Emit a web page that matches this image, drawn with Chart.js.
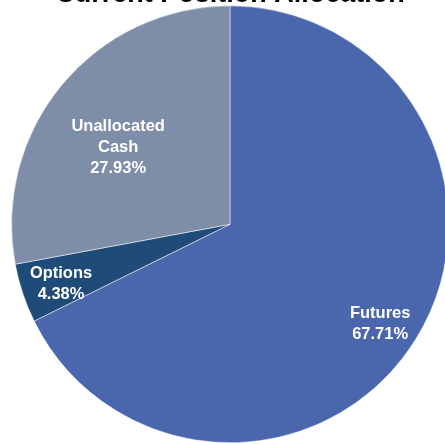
<!DOCTYPE html>
<html>
<head>
<meta charset="utf-8">
<script src="https://cdn.jsdelivr.net/npm/chart.js@4"></script>
<style>
  html, body { margin: 0; padding: 0; background: #fff; overflow: hidden; }
  #wrap { position: relative; width: 445px; height: 444px; overflow: hidden; }
  #allocationChart { position: absolute; left: 0; top: -40px; }
</style>
</head>
<body>
<div id="wrap">
  <canvas id="allocationChart" width="470" height="540"></canvas>
</div>
<script>
// Allocation by bucket (percent)
const categories = ['Futures', 'Options', 'Unallocated Cash'];
const allocation = [67.71, 4.38, 27.93];
const sliceColors = ['#4A66AD', '#1F4B78', '#7E8DA8'];

// label lines per slice and how far out from the centre they sit (fraction of radius)
const labelLines = [['Futures'], ['Options'], ['Unallocated', 'Cash']];
const labelRadius = [0.82, 0.82, 0.63];
const labelNudge = [[-2, 5], [1, 3], [-6, 11]];

const sliceLabels = {
  id: 'sliceLabels',
  afterDatasetsDraw(chart) {
    const ctx = chart.ctx;
    const meta = chart.getDatasetMeta(0);
    ctx.save();
    ctx.fillStyle = '#ffffff';
    ctx.font = 'bold 16.5px "Liberation Sans", Arial, sans-serif';
    ctx.textAlign = 'center';
    ctx.textBaseline = 'middle';
    meta.data.forEach((arc, i) => {
      const mid = (arc.startAngle + arc.endAngle) / 2;
      const r = arc.outerRadius * labelRadius[i];
      const x = arc.x + Math.cos(mid) * r + labelNudge[i][0];
      const y = arc.y + Math.sin(mid) * r + labelNudge[i][1];
      const lines = labelLines[i].concat([allocation[i].toFixed(2) + '%']);
      const lh = 21;
      const top = y - (lines.length - 1) * lh / 2;
      lines.forEach((t, j) => ctx.fillText(t, x, top + j * lh));
    });
    ctx.restore();
  }
};

const ctx = document.getElementById('allocationChart').getContext('2d');
const allocationChart = new Chart(ctx, {
  type: 'pie',
  data: {
    labels: categories,
    datasets: [{
      data: allocation,
      backgroundColor: sliceColors,
      borderColor: '#ffffff',
      borderWidth: 0.5
    }]
  },
  options: {
    responsive: false,
    animation: false,
    layout: { padding: { top: 24, left: 10, right: 20, bottom: 57 } },
    plugins: {
      legend: { display: false },
      tooltip: { enabled: false },
      title: {
        display: true,
        text: 'Current Position Allocation',
        color: '#000000',
        font: { family: '"Liberation Sans", Arial, sans-serif', size: 27, weight: 'bold', lineHeight: 0.8 },
        padding: 0
      }
    }
  },
  plugins: [sliceLabels]
});
</script>
</body>
</html>
